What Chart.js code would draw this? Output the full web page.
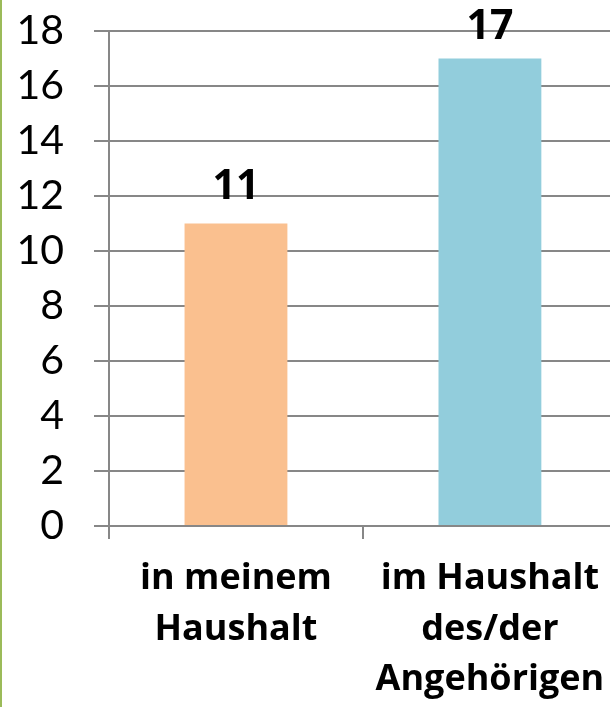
<!DOCTYPE html>
<html>
<head>
<meta charset="utf-8">
<script src="https://cdn.jsdelivr.net/npm/chart.js@4/dist/chart.umd.min.js"></script>
<style>
  html, body { margin: 0; padding: 0; background: #fff; overflow: hidden; }
  #frame { position: relative; width: 610px; height: 707px; overflow: hidden; }
  #edge { position: absolute; left: 0; top: 0; width: 2px; height: 707px; background: #9bbb59; z-index: 2; }
  #wrap { position: absolute; left: 0; top: 0; width: 620px; height: 707px; }
</style>
</head>
<body>
<div id="frame">
  <div id="edge"></div>
  <div id="wrap"><canvas id="chart" width="620" height="707"></canvas></div>
</div>
<script>
// Where the care takes place
const categories = [
  ['in meinem', 'Haushalt'],
  ['im Haushalt', 'des/der', 'Angehörigen']
];
const counts = [11, 17];
const barColors = ['#fac08f', '#92cddc'];
const yTicks = [0, 2, 4, 6, 8, 10, 12, 14, 16, 18];

const gridGray = '#878787';

// Bold value printed above each bar
const valueLabels = {
  id: 'valueLabels',
  afterDatasetsDraw(chart) {
    const ctx = chart.ctx;
    const meta = chart.getDatasetMeta(0);
    ctx.save();
    ctx.font = 'bold 41px "Open Sans"';
    ctx.fillStyle = '#000';
    ctx.textAlign = 'center';
    ctx.textBaseline = 'alphabetic';
    meta.data.forEach((bar, i) => {
      const y = Math.max(bar.y - 25, 39);
      ctx.fillText(String(counts[i]), bar.x, y);
    });
    ctx.restore();
  }
};

new Chart(document.getElementById('chart'), {
  type: 'bar',
  data: {
    labels: categories,
    datasets: [{
      data: counts,
      backgroundColor: barColors,
      borderWidth: 0,
      barPercentage: 0.405,
      categoryPercentage: 1
    }]
  },
  options: {
    responsive: false,
    animation: false,
    devicePixelRatio: 1,
    layout: { padding: { top: 31, right: 3, bottom: 0, left: 0 } },
    plugins: {
      legend: { display: false },
      tooltip: { enabled: false }
    },
    scales: {
      x: {
        offset: true,
        grid: {
          display: true,
          drawOnChartArea: false,
          drawTicks: true,
          tickLength: 13,
          color: gridGray,
          lineWidth: 2
        },
        border: { display: true, color: gridGray, width: 2 },
        ticks: {
          color: '#000',
          font: { family: '"Open Sans"', size: 36, weight: 'bold', lineHeight: 1.4 },
          padding: 15,
          maxRotation: 0,
          autoSkip: false
        },
        afterFit(scale) { scale.height = 181; }
      },
      y: {
        min: 0,
        max: 18,
        afterBuildTicks(scale) { scale.ticks = yTicks.map(v => ({ value: v })); },
        grid: {
          color: gridGray,
          lineWidth: 2,
          drawTicks: true,
          tickLength: 15
        },
        border: { display: true, color: gridGray, width: 2 },
        ticks: {
          color: '#000',
          font: { family: 'Lato', size: 41 },
          padding: 30
        },
        afterFit(scale) {
          scale.width = 109;
          scale.paddingTop = 0;
          scale.paddingBottom = 0;
        }
      }
    }
  },
  plugins: [valueLabels]
});
</script>
</body>
</html>
